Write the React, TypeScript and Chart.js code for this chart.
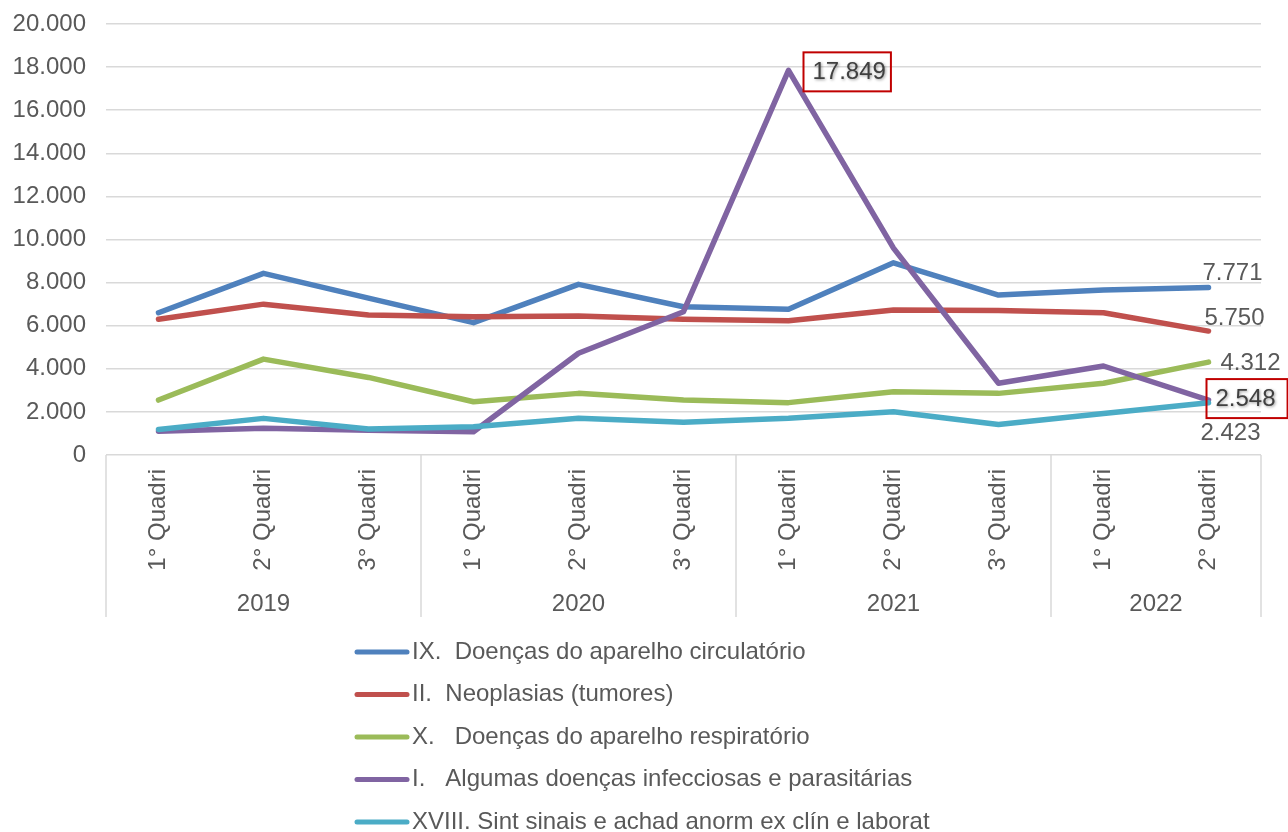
import React, { useEffect, useRef } from "react";
import { Chart, registerables } from "chart.js";

Chart.register(...registerables);

// ---------- DATA ----------
const categories = [
  "1° Quadri", "2° Quadri", "3° Quadri",
  "1° Quadri", "2° Quadri", "3° Quadri",
  "1° Quadri", "2° Quadri", "3° Quadri",
  "1° Quadri", "2° Quadri",
];
const years = ["2019", "2020", "2021", "2022"];
const yearSpans = [3, 3, 3, 2];

const seriesNames = [
  "IX.  Doenças do aparelho circulatório",
  "II.  Neoplasias (tumores)",
  "X.   Doenças do aparelho respiratório",
  "I.   Algumas doenças infecciosas e parasitárias",
  "XVIII. Sint sinais e achad anorm ex clín e laborat",
];
const circulatorio = [6600, 8430, 7280, 6140, 7920, 6880, 6760, 8920, 7420, 7660, 7771];
const neoplasias = [6300, 7000, 6500, 6420, 6450, 6300, 6230, 6730, 6700, 6600, 5750];
const respiratorio = [2550, 4450, 3600, 2470, 2860, 2550, 2430, 2940, 2860, 3330, 4312];
const infecciosas = [1100, 1240, 1150, 1080, 4720, 6650, 17849, 9600, 3330, 4130, 2548];
const sintomas = [1180, 1700, 1210, 1310, 1700, 1520, 1700, 2010, 1420, 1930, 2423];

const yMin = 0;
const yMax = 20000;
const yStep = 2000;

// ---------- STYLE ----------
const colors = ["#4f81bd", "#c0504d", "#9bbb59", "#8064a2", "#4bacc6"];
const FONT_FAMILY = '"Liberation Sans", Arial, sans-serif';
const TEXT = "#595959";
const GRID = "#d9d9d9";

// label placements (series index, point index, offsets, boxed)
const labelSpecs = [
  { s: 3, i: 6, dx: 24, dy: 2, align: "left", box: true, padR: 5 },
  { s: 0, i: 10, dx: 24, dy: -14, align: "center", box: false, padR: 0 },
  { s: 1, i: 10, dx: 26, dy: -13, align: "center", box: false, padR: 0 },
  { s: 2, i: 10, dx: 12, dy: 1, align: "left", box: false, padR: 0 },
  { s: 3, i: 10, dx: 7, dy: -1, align: "left", box: true, padR: 12 },
  { s: 4, i: 10, dx: 22, dy: 31, align: "center", box: false, padR: 0 },
];

const fmt = (v: number) =>
  String(Math.round(v)).replace(/\B(?=(\d{3})+(?!\d))/g, ".");

const overlayPlugin = {
  id: "overlay",
  afterDraw(chart: any) {
    const ctx = chart.ctx as CanvasRenderingContext2D;
    const x = chart.scales.x;
    const area = chart.chartArea;
    const sepBottom = 617;

    // group separators and year labels
    ctx.save();
    ctx.strokeStyle = GRID;
    ctx.lineWidth = 1.5;
    const bounds: number[] = [area.left];
    let idx = 0;
    yearSpans.forEach((n) => {
      idx += n;
      if (idx >= categories.length) bounds.push(area.right);
      else
        bounds.push(
          (x.getPixelForValue(idx - 1) + x.getPixelForValue(idx)) / 2
        );
    });
    bounds.forEach((bx) => {
      ctx.beginPath();
      ctx.moveTo(bx, area.bottom);
      ctx.lineTo(bx, sepBottom);
      ctx.stroke();
    });
    ctx.fillStyle = TEXT;
    ctx.font = `24px ${FONT_FAMILY}`;
    ctx.textAlign = "center";
    ctx.textBaseline = "middle";
    years.forEach((yr, k) => {
      ctx.fillText(yr, (bounds[k] + bounds[k + 1]) / 2, 604);
    });
    ctx.restore();

    // data labels
    const datasets = chart.data.datasets;
    labelSpecs.forEach((sp) => {
      const meta = chart.getDatasetMeta(sp.s);
      const pt = meta.data[sp.i];
      const val = datasets[sp.s].data[sp.i] as number;
      const txt = fmt(val);
      ctx.save();
      ctx.font = `24px ${FONT_FAMILY}`;
      ctx.textBaseline = "middle";
      const tw = ctx.measureText(txt).width;
      const cx = pt.x + sp.dx;
      const cy = pt.y + sp.dy;
      const left = sp.align === "center" ? cx - tw / 2 : cx;
      if (sp.box) {
        ctx.strokeStyle = "#c00000";
        ctx.lineWidth = 2;
        ctx.strokeRect(left - 9, cy - 20, tw + 9 + sp.padR, 39);
        ctx.shadowColor = "rgba(0,0,0,0.4)";
        ctx.shadowBlur = 3;
        ctx.shadowOffsetX = 1;
        ctx.shadowOffsetY = 1;
        ctx.fillStyle = "#404040";
      } else {
        ctx.fillStyle = TEXT;
      }
      ctx.textAlign = "left";
      ctx.fillText(txt, left, cy);
      ctx.restore();
    });

    // legend
    ctx.save();
    ctx.font = `24px ${FONT_FAMILY}`;
    ctx.textBaseline = "middle";
    ctx.textAlign = "left";
    seriesNames.forEach((name, k) => {
      const ly = 652 + k * 42.5;
      ctx.strokeStyle = colors[k];
      ctx.lineWidth = 5;
      ctx.lineCap = "round";
      ctx.beginPath();
      ctx.moveTo(357, ly);
      ctx.lineTo(407, ly);
      ctx.stroke();
      ctx.fillStyle = TEXT;
      ctx.fillText(name, 412, ly);
    });
    ctx.restore();
  },
};

export default function App() {
  const ref = useRef<HTMLCanvasElement | null>(null);

  useEffect(() => {
    if (!ref.current) return;
    const seriesData = [circulatorio, neoplasias, respiratorio, infecciosas, sintomas];
    const chart = new Chart(ref.current, {
      type: "line",
      data: {
        labels: categories,
        datasets: seriesData.map((d, k) => ({
          label: seriesNames[k],
          data: d,
          borderColor: colors[k],
          backgroundColor: colors[k],
          borderWidth: 5.5,
          pointRadius: 0,
          tension: 0,
          fill: false,
          borderJoinStyle: "round" as const,
          borderCapStyle: "round" as const,
          order: seriesData.length - k,
        })),
      },
      options: {
        responsive: false,
        animation: false,
        layout: { padding: { left: 0, right: 27, top: 24, bottom: 0 } },
        plugins: {
          legend: { display: false },
          tooltip: { enabled: false },
        },
        scales: {
          x: {
            offset: true,
            grid: { display: false },
            border: { display: false },
            ticks: {
              autoSkip: false,
              minRotation: 90,
              maxRotation: 90,
              padding: 6,
              color: TEXT,
              font: { size: 24, family: FONT_FAMILY },
            },
            afterFit: (s: any) => {
              s.height = 377;
              s.paddingLeft = 0;
              s.paddingRight = 0;
            },
          },
          y: {
            min: yMin,
            max: yMax,
            border: { display: false },
            grid: { color: GRID, lineWidth: 1.5, drawTicks: false },
            ticks: {
              stepSize: yStep,
              padding: 20,
              color: TEXT,
              font: { size: 24, family: FONT_FAMILY },
              callback: (v: any) => fmt(Number(v)),
            },
            afterFit: (s: any) => {
              s.width = 106;
              s.paddingTop = 0;
              s.paddingBottom = 0;
            },
          },
        },
      },
      plugins: [overlayPlugin],
    });
    return () => chart.destroy();
  }, []);

  return (
    <div style={{ position: "absolute", left: 0, top: 0, width: 1288, height: 832, background: "#fff" }}>
      <canvas ref={ref} width={1288} height={832} style={{ display: "block" }} />
    </div>
  );
}
